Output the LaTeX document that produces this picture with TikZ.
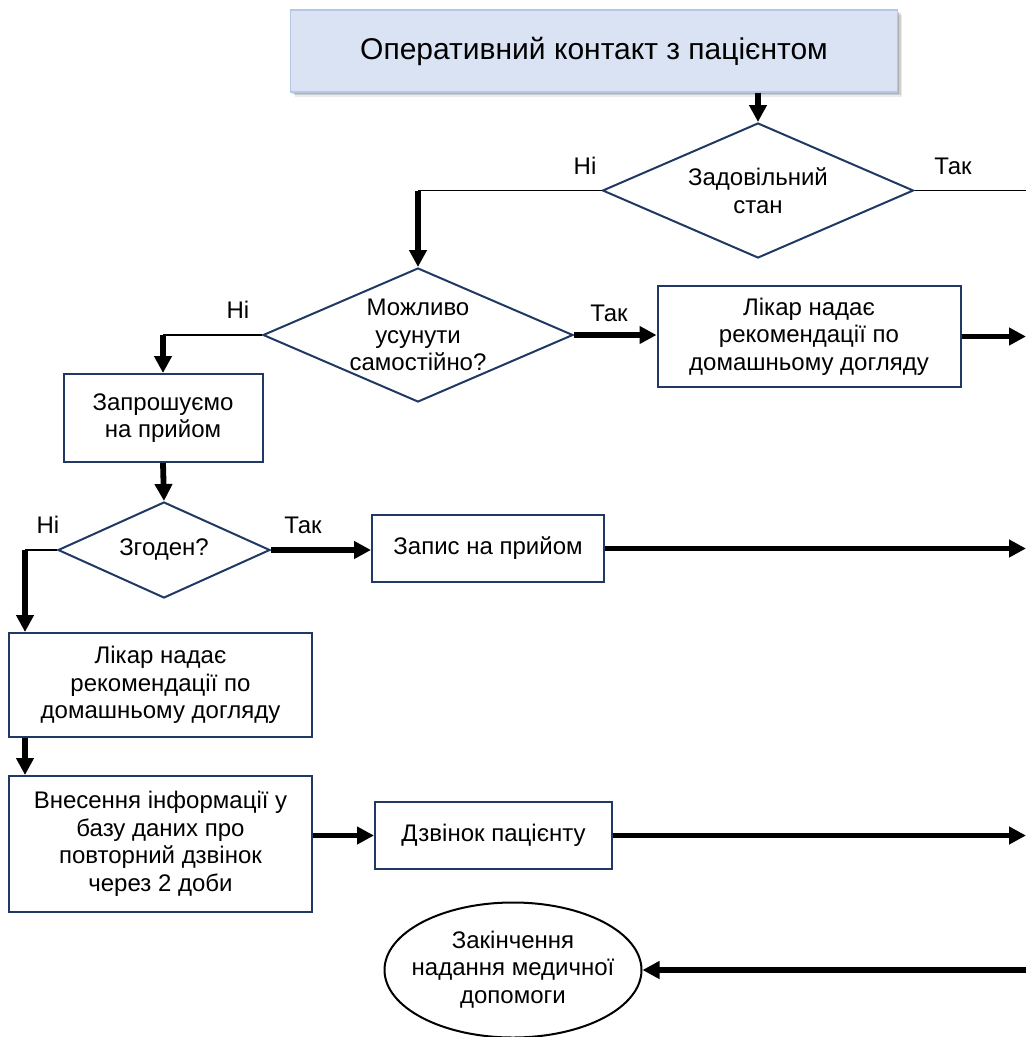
\documentclass[tikz,border=0pt]{standalone}
\usepackage{fontspec}
\setmainfont{Liberation Sans}
\usetikzlibrary{shapes.geometric,arrows.meta,shadows}
\definecolor{navy}{RGB}{32,56,100}
\definecolor{titlefill}{RGB}{218,227,243}
\definecolor{titleline}{RGB}{180,199,231}
\begin{document}
\begin{tikzpicture}[x=1pt,y=-1pt,
  every node/.style={font=\fontsize{24}{27.5}\selectfont, text=black},
  procbox/.style={rectangle, draw=navy, line width=2pt, align=center, inner sep=0pt},
  decision/.style={diamond, draw=navy, line width=2pt, aspect=2.3, inner sep=-8pt, align=center},
  flow/.style={line width=5.8pt, -{Triangle[length=17pt,width=17pt]}},
  thinline/.style={line width=1.6pt},
  lbl/.style={inner sep=0pt}]
\useasboundingbox (0,0) rectangle (1026,1037);

% title
\node[rectangle, draw=titleline, fill=titlefill, line width=1.5pt,
      minimum width=607pt, minimum height=82pt, inner sep=0pt,
      font=\fontsize{30}{34}\selectfont,
      drop shadow={shadow xshift=4.5pt, shadow yshift=-4.5pt, fill=black, opacity=0.08},
      drop shadow={shadow xshift=3pt, shadow yshift=-3pt, fill=black, opacity=0.12},
      drop shadow={shadow xshift=1.5pt, shadow yshift=-1.5pt, fill=black, opacity=0.15}]
      (title) at (594,51) {Оперативний контакт з пацієнтом};

% decisions
\node[decision, minimum width=311pt, minimum height=135pt] (d1) at (758,190.5) {Задовільний\\стан};
\node[decision, minimum width=310pt, minimum height=134pt] (d2) at (418,335) {Можливо\\усунути\\самостійно?};
\node[decision, minimum width=212pt, minimum height=96pt] (d3) at (164,550) {Згоден?};

% process boxes
\node[procbox, minimum width=303pt, minimum height=101pt] (lik1) at (809,336.5) {Лікар надає\\рекомендації по\\домашньому догляду};
\node[procbox, minimum width=199pt, minimum height=88pt] (zap) at (163,418) {Запрошуємо\\на прийом};
\node[procbox, minimum width=232pt, minimum height=67pt] (zapis) at (488,548.5) {Запис на прийом};
\node[procbox, minimum width=303pt, minimum height=104pt] (lik2) at (160.5,685) {Лікар надає\\рекомендації по\\домашньому догляду};
\node[procbox, minimum width=303pt, minimum height=136pt] (vnes) at (160.5,844) {Внесення інформації у\\базу даних про\\повторний дзвінок\\через 2 доби};
\node[procbox, minimum width=237pt, minimum height=67pt] (dzv) at (493.5,835.5) {Дзвінок пацієнту};

% terminal
\node[ellipse, draw=black, line width=2pt, minimum width=257pt, minimum height=135pt, inner sep=0pt]
  (ell) at (513,970) {\makebox[0pt]{\begin{tabular}{@{}c@{}}Закінчення\\надання медичної\\допомоги\end{tabular}}};

% labels
\node[lbl] (l1) at (585,166) {Ні};
\node[lbl] (l2) at (953,166) {Так};
\node[lbl] (l3) at (238,310) {Ні};
\node[lbl] (l4) at (609,313) {Так};
\node[lbl] (l5) at (48,525) {Ні};
\node[lbl] (l6) at (303,525) {Так};

% helper coordinates
\coordinate (rt) at (1026,0);
\coordinate (c3) at (25,550);

% connectors
\draw[flow] (title.south -| d1.north) -- (d1.north);
\draw[thinline] (d1.west) -- (d1.west -| d2.north);
\draw[flow] (d1.west -| d2.north) -- (d2.north);
\draw[thinline] (d1.east) -- (d1.east -| rt);

\draw[thinline] (d2.west) -- (d2.west -| zap.north);
\draw[flow] (d2.west -| zap.north) -- (zap.north);
\draw[flow] (d2.east) -- (d2.east -| lik1.west);
\draw[flow] (lik1.east) -- (lik1.east -| rt);

\draw[flow] (zap.south) -- (d3.north);
\draw[thinline] (d3.west) -- (c3);
\draw[flow] (c3) -- (c3 |- lik2.north);
\draw[flow] (d3.east) -- (d3.east -| zapis.west);
\draw[flow] (zapis.east) -- (zapis.east -| rt);

\draw[flow] (lik2.south -| c3) -- (vnes.north -| c3);
\draw[flow] (dzv.west -| vnes.east) -- (dzv.west);
\draw[flow] (dzv.east) -- (dzv.east -| rt);
\draw[flow] (ell.east -| rt) -- (ell.east);
\end{tikzpicture}
\end{document}
